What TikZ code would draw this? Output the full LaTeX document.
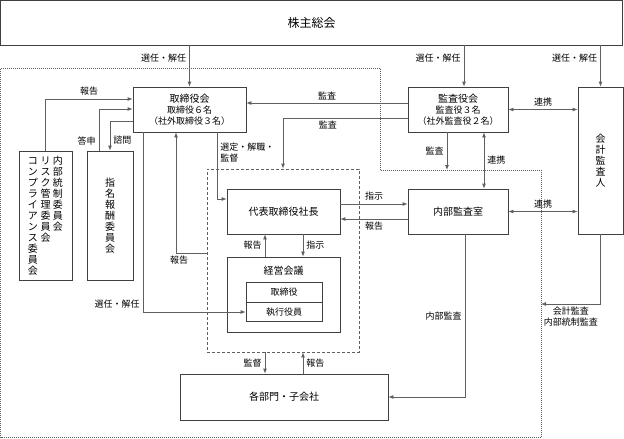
\documentclass[tikz,border=0pt]{standalone}
\usepackage{fontspec}
\setmainfont{Noto Sans CJK JP}
\usepackage{tikz}
\usetikzlibrary{arrows.meta}
\definecolor{linegray}{HTML}{606060}
\definecolor{boxgray}{HTML}{404040}
\tikzstyle{box}=[rectangle, draw=boxgray, line width=0.8pt, inner sep=0pt, align=center, font=\fontsize{10}{11}\selectfont]
\tikzstyle{lbl}=[inner sep=3pt, font=\fontsize{9}{10.5}\selectfont]
\tikzstyle{conn}=[draw=linegray, line width=0.8pt]
\makeatletter
\newcommand\tate[1]{\vtop{\baselineskip=11pt\lineskiplimit=-20pt
  \@tfor\tchar:=#1\do{\hbox to 12.5pt{\hss\tchar\hss}}}}
\makeatother

\begin{document}
\begin{tikzpicture}[x=1pt,y=-1pt,>={Latex[length=5pt,width=4pt]}]
    \useasboundingbox (0,0) rectangle (624,439);
    % dotted area and dashed group
    \draw[linegray, dash pattern=on 1pt off 1pt] (0.5,68) -- (380,68) -- (380,170) -- (541,170) -- (541,437.5) -- (0.5,437.5) -- cycle;
    \node (exec) [rectangle, draw=linegray, line width=0.8pt, dash pattern=on 3pt off 2pt, minimum width=152pt, minimum height=183pt] at (283,260.5) {};

    \node (soukai) [box, minimum width=622pt, minimum height=44.5pt, font=\fontsize{12}{14}\selectfont] at (311.5,22.75) {株主総会};
    \node (torishimari) [box, minimum width=113pt, minimum height=45pt] at (189.5,109.5)
      {取締役会\\{\fontsize{9}{11}\selectfont 取締役６名}\\{\fontsize{9}{11}\selectfont （社外取締役３名）}};
    \node (kansayaku) [box, minimum width=100pt, minimum height=45pt] at (458,109.5)
      {監査役会\\{\fontsize{9}{11}\selectfont 監査役３名}\\{\fontsize{9}{11}\selectfont （社外監査役２名）}};
    \node (kaikei) [box, minimum width=45pt, minimum height=147pt] at (600.5,160.5) {\tate{会計監査人}};
    \node (iinkai1) [box, minimum width=53pt, minimum height=129pt] at (45.5,215.5)
      {\tate{コンプライアンス委員会}\tate{リスク管理委員会}\tate{内部統制委員会}};
    \node (iinkai2) [box, minimum width=46pt, minimum height=129pt] at (110,215.5) {\tate{指名報酬委員会}};
    \node (shacho) [box, minimum width=113pt, minimum height=45pt] at (283.5,211.5) {代表取締役社長};
    \node (naibu) [box, minimum width=100pt, minimum height=45pt] at (458,211.5) {内部監査室};
    \node (keiei) [box, minimum width=113pt, minimum height=75pt] at (283.5,294.5) {};
    \node (keieiT) [font=\fontsize{10}{11}\selectfont] at (283.5,271) {経営会議};
    \node (tori2) [box, minimum width=76pt, minimum height=19.5pt, font=\fontsize{9}{11}\selectfont] at (284,292.5) {取締役};
    \node (shikko) [box, minimum width=76pt, minimum height=19.5pt, font=\fontsize{9}{11}\selectfont] at (284,312) {執行役員};
    \node (bumon) [box, minimum width=208pt, minimum height=46pt] at (284,397) {各部門・子会社};

    \coordinate (dotN) at (447,170);
    \coordinate (dotR) at (541,304);

    % from the general meeting
    \draw[conn,->] (torishimari.north |- soukai.south) -- (torishimari.north) node[lbl,pos=0.3,left] {選任・解任};
    \draw[conn,->] (464,0 |- soukai.south) -- (464,0 |- kansayaku.north) node[lbl,pos=0.3,left] {選任・解任};
    \draw[conn,->] (kaikei.north |- soukai.south) -- (kaikei.north) node[lbl,pos=0.3,left] {選任・解任};

    % audit lines
    \draw[conn,->] (kansayaku.west |- 0,103) -- (torishimari.east |- 0,103) node[lbl,midway,above] {監査};
    \draw[conn,->] (kansayaku.west |- 0,118) -| (exec.north) node[lbl,pos=0.32,below] {監査};
    \draw[conn,->] (447,0 |- kansayaku.south) -- (dotN) node[lbl,midway,left] {監査};
    \draw[conn,<->] (484,0 |- kansayaku.south) -- (484,0 |- naibu.north) node[lbl,midway,right] {連携};
    \draw[conn,<->] (kansayaku.east) -- (kaikei.west |- kansayaku.east) node[lbl,midway,above] {連携};
    \draw[conn,<->] (naibu.east) -- (kaikei.west |- naibu.east) node[lbl,midway,above] {連携};
    \draw[conn,->] (kaikei.south) |- (dotR) node[lbl,pos=0.75,below,align=center] {会計監査\\内部統制監査};
    \draw[conn,->] (465,0 |- naibu.south) |- (bumon.east) node[lbl,pos=0.25,left] {内部監査};

    % president and internal audit
    \draw[conn,->] (shacho.east |- 0,204) -- (naibu.west |- 0,204) node[lbl,midway,above] {指示};
    \draw[conn,->] (naibu.west |- 0,219) -- (shacho.east |- 0,219) node[lbl,midway,below] {報告};

    % board and committees
    \draw[conn,->] (217,0 |- torishimari.south) |- (shacho.west |- 0,199) node[lbl,pos=0.15,right,align=left] {選定・解職・\\監督};
    \draw[conn,->] (exec.west |- 0,253) -| (176,0 |- torishimari.south) node[lbl,pos=0.45,below] {報告};
    \draw[conn,->] (143,0 |- torishimari.south) |- (shikko.west) node[lbl,pos=0.5,above left] {選任・解任};
    \draw[conn,->] (iinkai1.north) |- (torishimari.west |- 0,99) node[lbl,pos=0.75,above] {報告};
    \draw[conn,->] (99,0 |- iinkai2.north) |- (torishimari.west |- 0,109) node[lbl,pos=0.12,left] {答申};
    \draw[conn,->] (torishimari.west |- 0,121) -| (iinkai2.north) node[lbl,pos=0.83,right] {諮問};

    % executive group
    \draw[conn,->] (265,0 |- keiei.north) -- (265,0 |- shacho.south) node[lbl,midway,left] {報告};
    \draw[conn,->] (303,0 |- shacho.south) -- (303,0 |- keiei.north) node[lbl,midway,right] {指示};
    \draw[conn,->] (265,0 |- exec.south) -- (265,0 |- bumon.north) node[lbl,midway,left] {監督};
    \draw[conn,->] (303,0 |- bumon.north) -- (303,0 |- exec.south) node[lbl,midway,right] {報告};
\end{tikzpicture}
\end{document}
